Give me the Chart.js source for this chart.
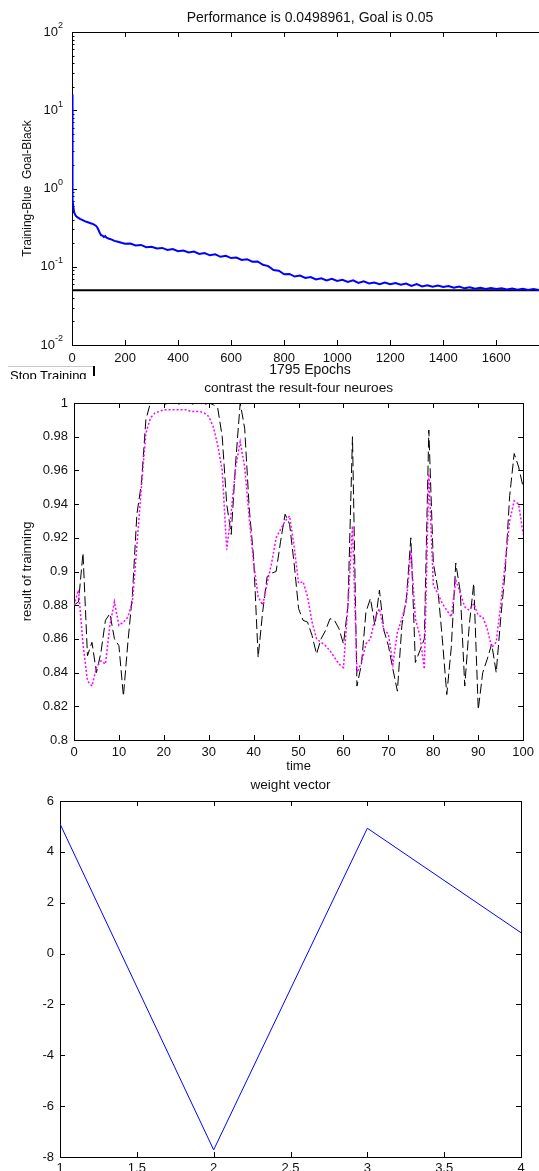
<!DOCTYPE html>
<html>
<head>
<meta charset="utf-8">
<script src="https://cdn.jsdelivr.net/npm/chart.js@4.4.1/dist/chart.umd.min.js"></script>
<style>
body { margin: 0; background: #fff; width: 539px; height: 1171px; overflow: hidden; position: relative; }
canvas { position: absolute; left: 0; }
#perfChart { top: 0; }
#resultChart { top: 378px; }
#weightChart { top: 775px; }
#stopBtn { position: absolute; left: 8px; top: 366px; width: 86px; height: 12px; overflow: hidden;
  border-top: 1px solid #c8c8c8; font: 13px 'Liberation Sans', Arial, sans-serif; line-height: 15px; color: #000; }
#stopBtn span { position: relative; left: 2px; top: 1px; }
#stopBar { position: absolute; left: 93px; top: 366px; width: 2px; height: 10px; background: #000; }
</style>
</head>
<body>
<canvas id="perfChart" width="560" height="385"></canvas>
<div id="stopBtn"><span>Stop Training</span></div>
<div id="stopBar"></div>
<canvas id="resultChart" width="539" height="397"></canvas>
<canvas id="weightChart" width="539" height="396"></canvas>
<script>
// ---- training record (epochs / performance)
var trainEpochs = [0, 1, 2, 3, 5, 8, 12, 16, 20, 30, 40, 50, 60, 70, 80, 90, 95, 100, 105, 110, 115, 120, 125, 130, 140, 150, 160, 170, 180, 190,
    200, 220, 240, 260, 280, 300, 320, 340, 360, 380, 400, 420, 440, 460, 480, 500, 520, 540, 560, 580,
    600, 620, 640, 660, 680, 700, 720, 740, 760, 780, 800, 820, 840, 860, 880, 900, 920, 940, 960, 980,
    1000, 1020, 1040, 1060, 1080, 1100, 1120, 1140, 1160, 1180, 1200, 1220, 1240, 1260, 1280, 1300, 1320, 1340, 1360, 1380,
    1400, 1420, 1440, 1460, 1480, 1500, 1520, 1540, 1560, 1580, 1600, 1620, 1640, 1660, 1680, 1700, 1720, 1740, 1760, 1780, 1795];
var trainPerf = [16, 2.3, 1.05, 0.72, 0.58, 0.5, 0.46, 0.44, 0.43, 0.41, 0.395, 0.38, 0.37, 0.36, 0.35, 0.335, 0.32, 0.295, 0.27, 0.252, 0.25, 0.24, 0.246, 0.236, 0.228, 0.222, 0.214, 0.21, 0.206, 0.201,
    0.197, 0.198, 0.187, 0.190, 0.178, 0.180, 0.171, 0.174, 0.164, 0.168, 0.158, 0.161, 0.152, 0.156, 0.146, 0.150, 0.140, 0.144, 0.134, 0.138,
    0.129, 0.131, 0.122, 0.125, 0.116, 0.117, 0.106, 0.102, 0.091, 0.089, 0.080, 0.081, 0.075, 0.077, 0.072, 0.074, 0.069, 0.071, 0.067, 0.070,
    0.066, 0.068, 0.064, 0.067, 0.062, 0.065, 0.061, 0.063, 0.060, 0.063, 0.060, 0.062, 0.059, 0.061, 0.057, 0.060, 0.056, 0.058, 0.0555, 0.0575,
    0.0553, 0.0568, 0.0540, 0.0558, 0.0530, 0.0548, 0.0525, 0.0540, 0.0520, 0.0535, 0.0518, 0.0532, 0.0513, 0.0527, 0.0510, 0.0522, 0.0505, 0.0518, 0.0503, 0.0512, 0.0499];
var goalLevel = 0.05;
var epochTicks = [0, 200, 400, 600, 800, 1000, 1200, 1400, 1600];
var perfDecades = [-2, -1, 0, 1, 2];

// ---- network output vs target, t = 0..100
var blackResult = [0.880, 0.882, 0.911, 0.850, 0.858, 0.840, 0.852, 0.871, 0.875, 0.860,
    0.856, 0.826, 0.858, 0.886, 0.934, 0.952, 0.990, 1.000, 1.000, 1.000,
    0.999, 1.000, 1.000, 0.999, 1.000, 1.000, 0.999, 1.000, 1.000, 0.999,
    1.000, 0.999, 0.997, 0.980, 0.940, 0.922, 0.965, 1.000, 0.985, 0.938,
    0.908, 0.849, 0.876, 0.897, 0.899, 0.900, 0.918, 0.934, 0.928, 0.905,
    0.878, 0.871, 0.870, 0.862, 0.851, 0.860, 0.865, 0.872, 0.871, 0.866,
    0.857, 0.880, 0.980, 0.832, 0.845, 0.876, 0.884, 0.868, 0.889, 0.865,
    0.856, 0.842, 0.829, 0.868, 0.884, 0.920, 0.846, 0.853, 0.860, 0.984,
    0.905, 0.890, 0.860, 0.827, 0.855, 0.905, 0.888, 0.832, 0.868, 0.893,
    0.818, 0.840, 0.848, 0.857, 0.840, 0.872, 0.900, 0.945, 0.970, 0.962, 0.950];
var magentaResult = [0.880, 0.889, 0.857, 0.835, 0.832, 0.843, 0.847, 0.845, 0.868, 0.882,
    0.868, 0.870, 0.873, 0.882, 0.915, 0.950, 0.982, 0.991, 0.994, 0.995,
    0.996, 0.996, 0.996, 0.996, 0.996, 0.996, 0.995, 0.995, 0.995, 0.994,
    0.992, 0.986, 0.975, 0.960, 0.913, 0.935, 0.962, 0.977, 0.962, 0.932,
    0.905, 0.885, 0.880, 0.893, 0.905, 0.920, 0.925, 0.930, 0.933, 0.915,
    0.893, 0.894, 0.885, 0.870, 0.860, 0.858, 0.856, 0.853, 0.849, 0.845,
    0.843, 0.880, 0.927, 0.840, 0.846, 0.857, 0.860, 0.872, 0.878, 0.865,
    0.863, 0.845, 0.864, 0.872, 0.882, 0.912, 0.872, 0.862, 0.842, 0.958,
    0.892, 0.887, 0.881, 0.877, 0.873, 0.895, 0.887, 0.879, 0.877, 0.881,
    0.874, 0.873, 0.866, 0.855, 0.858, 0.880, 0.905, 0.930, 0.942, 0.940, 0.922];

// ---- weight vector
var weightIndex = [1, 2, 3, 4];
var weightValues = [5.1, -7.72, 4.93, 0.82];

var fontFam = "'Liberation Sans', Arial, Helvetica, sans-serif";
Chart.defaults.font.family = fontFam;
Chart.defaults.font.size = 13;
Chart.defaults.color = '#111';
Chart.defaults.animation = false;

function plainNum(v) {
    return String(+Number(v).toFixed(4));
}

// matlab style box with inward ticks on all sides (drawn under the lines)
var matlabAxes = {
    id: 'matlabAxes',
    beforeDatasetsDraw: function (chart) {
        var ctx = chart.ctx;
        var a = chart.chartArea;
        var sx = chart.scales.x;
        var sy = chart.scales.y;
        var len = 5;
        ctx.save();
        ctx.strokeStyle = '#000';
        ctx.lineWidth = 1;
        ctx.strokeRect(Math.round(a.left) + 0.5, Math.round(a.top) + 0.5, Math.round(a.right - a.left), Math.round(a.bottom - a.top));
        ctx.beginPath();
        sx.ticks.forEach(function (t) {
            var px = Math.round(sx.getPixelForValue(t.value)) + 0.5;
            ctx.moveTo(px, a.bottom); ctx.lineTo(px, a.bottom - len);
            ctx.moveTo(px, a.top); ctx.lineTo(px, a.top + len);
        });
        if (sy.type === 'logarithmic') {
            perfDecades.forEach(function (e) {
                var py = Math.round(sy.getPixelForValue(Math.pow(10, e))) + 0.5;
                ctx.moveTo(a.left, py); ctx.lineTo(a.left + len, py);
                ctx.moveTo(a.right, py); ctx.lineTo(a.right - len, py);
                if (e < 2) {
                    for (var m = 2; m < 10; m++) {
                        var my = Math.round(sy.getPixelForValue(m * Math.pow(10, e))) + 0.5;
                        ctx.moveTo(a.left, my); ctx.lineTo(a.left + 2.5, my);
                        ctx.moveTo(a.right, my); ctx.lineTo(a.right - 2.5, my);
                    }
                }
            });
        } else {
            sy.ticks.forEach(function (t) {
                var py = Math.round(sy.getPixelForValue(t.value)) + 0.5;
                ctx.moveTo(a.left, py); ctx.lineTo(a.left + len, py);
                ctx.moveTo(a.right, py); ctx.lineTo(a.right - len, py);
            });
        }
        ctx.stroke();
        ctx.restore();
    }
};

// title centred over the axes box, like matlab does
var axesTitle = {
    id: 'axesTitle',
    afterDraw: function (chart, args, opts) {
        var ctx = chart.ctx;
        var a = chart.chartArea;
        ctx.save();
        ctx.fillStyle = '#111';
        ctx.font = opts.size + 'px ' + fontFam;
        ctx.textAlign = 'center';
        ctx.textBaseline = 'middle';
        ctx.fillText(opts.text, (a.left + a.right) / 2, opts.y);
        ctx.restore();
    }
};

// 10^n labels for the log axis
var powerLabels = {
    id: 'powerLabels',
    afterDraw: function (chart) {
        var ctx = chart.ctx;
        var sy = chart.scales.y;
        ctx.save();
        ctx.fillStyle = '#111';
        ctx.textBaseline = 'middle';
        perfDecades.forEach(function (e) {
            var py = sy.getPixelForValue(Math.pow(10, e));
            var ex = String(e);
            ctx.font = '9px ' + fontFam;
            var w = ctx.measureText(ex).width;
            var exX = 63 - w;
            ctx.textAlign = 'left';
            ctx.fillText(ex, exX, py - 6);
            ctx.font = '13px ' + fontFam;
            ctx.textAlign = 'right';
            ctx.fillText('10', exX, py);
        });
        ctx.restore();
    }
};

var noGrid = { display: false, drawTicks: false };
var noBorder = { display: false };

var perfPoints = trainEpochs.map(function (e, i) { return { x: e, y: trainPerf[i] }; });
var goalPoints = [{ x: 0, y: goalLevel }, { x: 1795, y: goalLevel }];

var perfChart = new Chart(document.getElementById('perfChart'), {
    type: 'line',
    data: {
        datasets: [
            { data: perfPoints, borderColor: '#0000ff', borderWidth: 2, pointRadius: 0, tension: 0 },
            { data: goalPoints, borderColor: '#000', borderWidth: 2, pointRadius: 0 }
        ]
    },
    options: {
        responsive: false,
        events: [],
        layout: { padding: { left: 0, right: 12, top: 32, bottom: 0 } },
        plugins: {
            legend: { display: false },
            tooltip: { enabled: false },
            title: { display: false },
            axesTitle: { text: 'Performance is 0.0498961, Goal is 0.05', y: 18.5, size: 14 }
        },
        scales: {
            x: {
                type: 'linear', min: 0, max: 1795,
                grid: noGrid, border: noBorder,
                afterBuildTicks: function (s) { s.ticks = epochTicks.map(function (v) { return { value: v }; }); },
                ticks: { padding: 6, callback: plainNum },
                title: { display: true, text: '1795 Epochs', font: { size: 14 }, padding: { top: 0, bottom: 6 } },
                afterFit: function (s) { s.height = 40; }
            },
            y: {
                type: 'logarithmic', min: 0.01, max: 100,
                grid: noGrid, border: noBorder,
                ticks: { display: false },
                title: { display: true, text: 'Training-Blue  Goal-Black', font: { size: 12 }, padding: { top: 20, bottom: 0 } },
                afterFit: function (s) { s.width = 72; }
            }
        }
    },
    plugins: [matlabAxes, powerLabels, axesTitle]
});

var timePoints = blackResult.map(function (v, i) { return i; });

var resultChart = new Chart(document.getElementById('resultChart'), {
    type: 'line',
    data: {
        datasets: [
            { data: magentaResult.map(function (v, i) { return { x: timePoints[i], y: v }; }),
              borderColor: '#ff00ff', borderWidth: 1.5, borderDash: [2, 2], pointRadius: 0, tension: 0 },
            { data: blackResult.map(function (v, i) { return { x: timePoints[i], y: v }; }),
              borderColor: '#000', borderWidth: 1, borderDash: [10, 4], pointRadius: 0, tension: 0 }
        ]
    },
    options: {
        responsive: false,
        events: [],
        layout: { padding: { left: 0, right: 7, top: 25, bottom: 0 } },
        plugins: {
            legend: { display: false },
            tooltip: { enabled: false },
            title: { display: false },
            axesTitle: { text: 'contrast the result-four neuroes', y: 10, size: 13.6 }
        },
        scales: {
            x: {
                type: 'linear', min: 0, max: 100,
                grid: noGrid, border: noBorder,
                ticks: { stepSize: 10, padding: 5, callback: plainNum },
                title: { display: true, text: 'time', font: { size: 13 }, padding: { top: 0, bottom: 0.5 } },
                afterFit: function (s) { s.height = 35; }
            },
            y: {
                type: 'linear', min: 0.8, max: 1,
                grid: noGrid, border: noBorder,
                ticks: { stepSize: 0.02, padding: 6, callback: plainNum },
                title: { display: true, text: 'result of trainning', font: { size: 13 }, padding: { top: 20, bottom: 0 } },
                afterFit: function (s) { s.width = 74; }
            }
        }
    },
    plugins: [matlabAxes, axesTitle]
});

var weightChart = new Chart(document.getElementById('weightChart'), {
    type: 'line',
    data: {
        datasets: [
            { data: weightIndex.map(function (v, i) { return { x: v, y: weightValues[i] }; }),
              borderColor: '#0000ff', borderWidth: 1, pointRadius: 0, tension: 0 }
        ]
    },
    options: {
        responsive: false,
        events: [],
        layout: { padding: { left: 0, right: 18, top: 26, bottom: 0 } },
        plugins: {
            legend: { display: false },
            tooltip: { enabled: false },
            title: { display: false },
            axesTitle: { text: 'weight vector', y: 10, size: 13.6 }
        },
        scales: {
            x: {
                type: 'linear', min: 1, max: 4,
                grid: noGrid, border: noBorder,
                ticks: { stepSize: 0.5, padding: 4, callback: plainNum },
                afterFit: function (s) { s.height = 14; }
            },
            y: {
                type: 'linear', min: -8, max: 6,
                grid: noGrid, border: noBorder,
                ticks: { stepSize: 2, padding: 6, callback: plainNum },
                afterFit: function (s) { s.width = 60; }
            }
        }
    },
    plugins: [matlabAxes, axesTitle]
});
</script>
</body>
</html>
